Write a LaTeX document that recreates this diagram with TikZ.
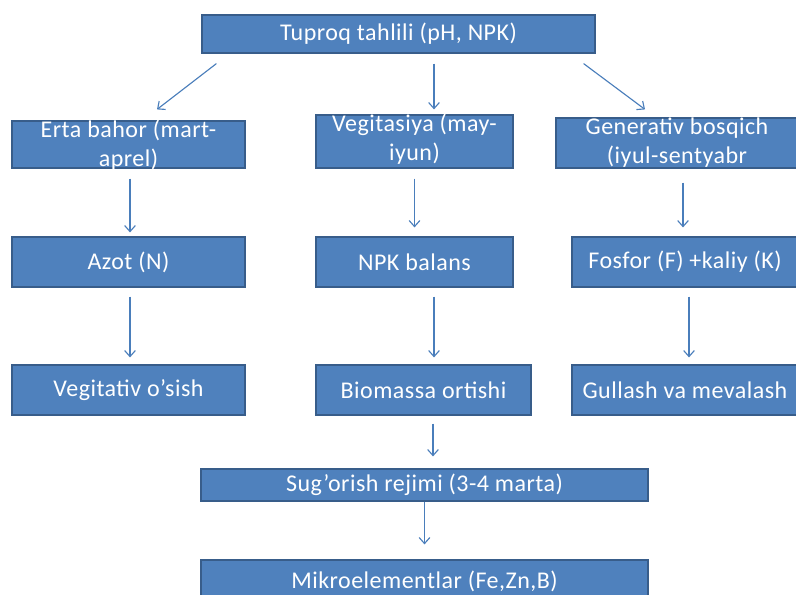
\documentclass[tikz,border=0pt]{standalone}
\usepackage{fontspec}
\setmainfont{Carlito}[LetterSpace=2]
\usepackage{tikz}
\usetikzlibrary{arrows.meta,calc}

\definecolor{boxfill}{RGB}{79,129,189}
\definecolor{boxline}{RGB}{56,93,138}
\definecolor{arrowblue}{RGB}{74,126,187}

\tikzset{
  box/.style={draw=boxline, line width=0.9pt, fill=boxfill, text=white,
    font=\fontsize{18}{21.75}\selectfont, inner sep=0pt, align=flush center},
  twoline/.style={box, text height=12pt},
  arr/.style={draw=arrowblue, line width=0.85pt,
    -{Straight Barb[length=4.5pt,width=8pt]}}
}

\begin{document}
\begin{tikzpicture}[x=0.75pt,y=0.75pt,yscale=-1,xscale=1]
\useasboundingbox (0,0) rectangle (796,594);

%Shape: Rectangle [top]
\node[box, minimum width=294.75pt, minimum height=28.5pt] (tahlil) at (398.5,34) {Tuproq tahlili (pH, NPK)};

%Shape: Rectangle [row 1]
\node[twoline, text width=174.75pt, text depth=23.25pt] (erta) at (128.5,144.5) {Erta bahor (mart-\\aprel)};
\node[twoline, text width=147.75pt, text depth=27.75pt] (vegit) at (414.5,141.5) {Vegitasiya (may-\\iyun)};
\node[twoline, text width=181.5pt, text depth=25.5pt] (gener) at (677,143) {Generativ bosqich\\(iyul-sentyabr};

%Shape: Rectangle [row 2]
\node[box, minimum width=174.75pt, minimum height=37.5pt] (azot) at (128.5,262) {Azot (N)};
\node[box, minimum width=147.75pt, minimum height=37.5pt] (npk) at (414.5,262) {NPK balans};
\node[box, minimum width=169.5pt, minimum height=37.5pt] (fosfor) at (685,262) {Fosfor (F) +kaliy (K)};

%Shape: Rectangle [row 3]
\node[box, minimum width=174.75pt, minimum height=37.5pt] (osish) at (128.5,390) {Vegitativ o’sish};
\node[box, minimum width=161.25pt, minimum height=37.5pt] (biomassa) at (423.5,390) {Biomassa ortishi};
\node[box, minimum width=169.5pt, minimum height=37.5pt] (gullash) at (685,390) {Gullash va mevalash};

%Shape: Rectangle [bottom]
\node[box, minimum width=335.25pt, minimum height=24pt] (sugorish) at (424.5,485) {Sug’orish rejimi (3-4 marta)};
\node[box, minimum width=335.25pt, minimum height=31.5pt] (mikro) at (424.5,581) {Mikroelementlar (Fe,Zn,B)};

%Straight Lines
\draw[arr] ($(tahlil.south west)+(15,10)$) -- ($(erta.north)+(28.5,-11)$);
\draw[arr] ($(tahlil.south)+(35.5,10)$) -- ($(vegit.north)+(19.5,-5)$);
\draw[arr] ($(tahlil.south east)+(-12,10)$) -- ($(gener.north)+(-32,-8)$);
%Straight Lines
\draw[arr] ($(erta.south)+(1.5,10)$) -- ($(azot.north)+(1.5,-4)$);
\draw[arr] ($(vegit.south)+(0,10)$) -- ($(npk.north)+(0,-9)$);
\draw[arr] ($(gener.south)+(6,14)$) -- ($(fosfor.north)+(-2,-9)$);
%Straight Lines
\draw[arr] ($(azot.south)+(1.5,9)$) -- ($(osish.north)+(1.5,-7)$);
\draw[arr] ($(npk.south)+(19.5,9)$) -- ($(biomassa.north)+(10.5,-7)$);
\draw[arr] ($(fosfor.south)+(4,9)$) -- ($(gullash.north)+(4,-7)$);
%Straight Lines
\draw[arr] ($(biomassa.south)+(9.5,8)$) -- ($(sugorish.north)+(8.5,-12)$);
\draw[arr] (sugorish.south) -- ($(mikro.north)+(0,-15)$);

\end{tikzpicture}
\end{document}
